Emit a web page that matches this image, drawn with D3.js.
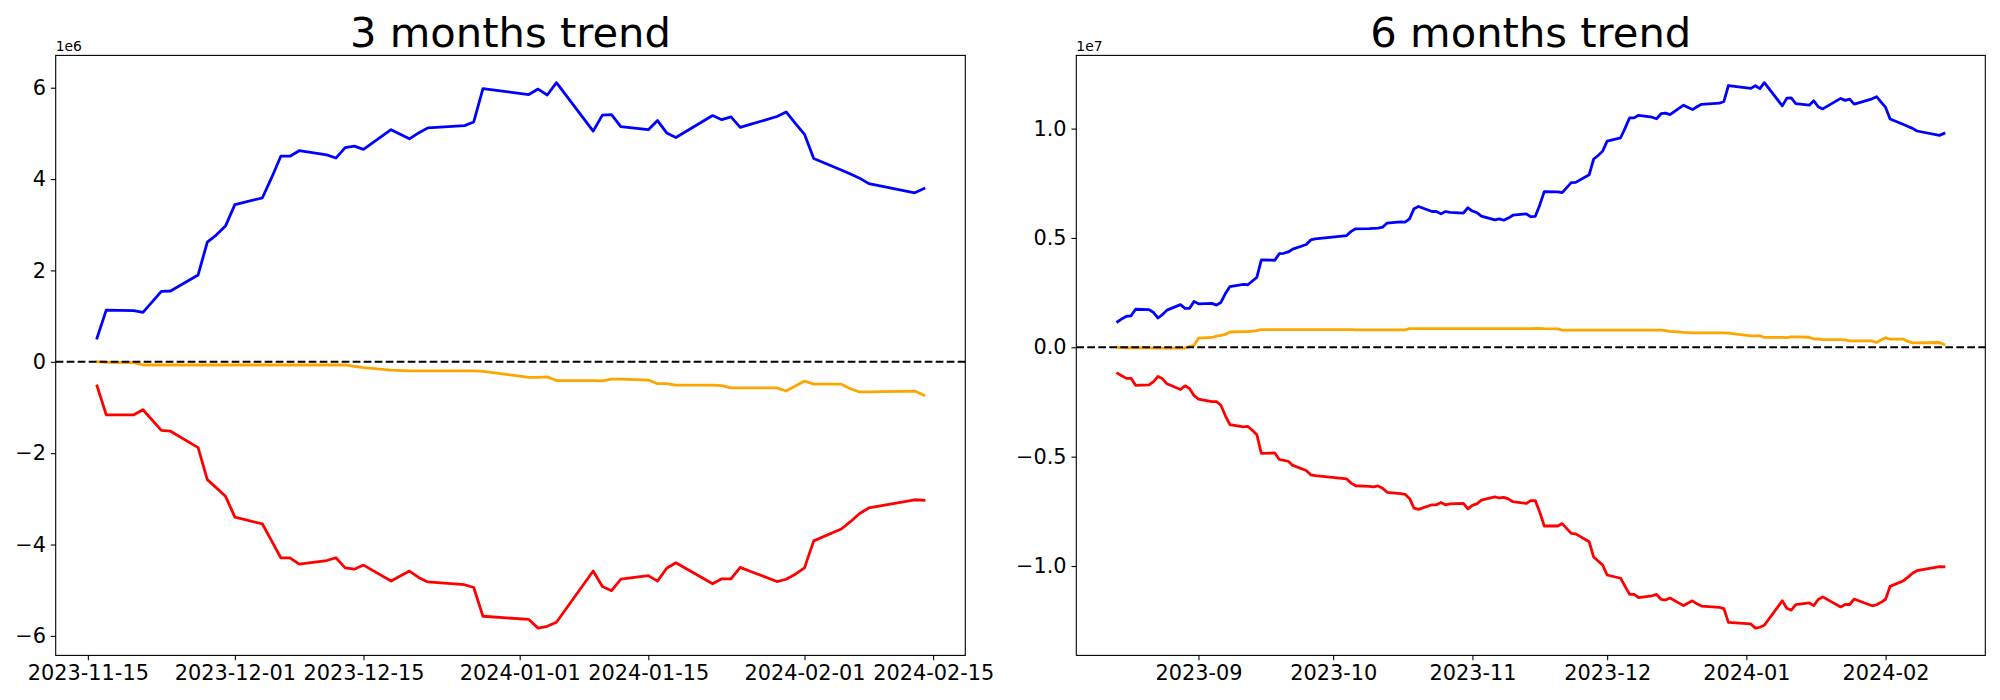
<!DOCTYPE html>
<html>
<head>
<meta charset="utf-8">
<script src="https://cdn.jsdelivr.net/npm/d3@7"></script>
<style>
  body { margin: 0; background: #fff; }
</style>
</head>
<body>
<script>
// ---- 3 months panel (values in units of 1e6) ----
const dates3m = [
  '2023-11-16','2023-11-17','2023-11-20','2023-11-21','2023-11-23','2023-11-24','2023-11-27','2023-11-28','2023-11-29','2023-11-30',
  '2023-12-01','2023-12-04','2023-12-05','2023-12-06','2023-12-07','2023-12-08','2023-12-11','2023-12-12','2023-12-13','2023-12-14',
  '2023-12-15','2023-12-18','2023-12-20','2023-12-21','2023-12-22','2023-12-26','2023-12-27','2023-12-28',
  '2024-01-02','2024-01-03','2024-01-04','2024-01-05','2024-01-09','2024-01-10','2024-01-11','2024-01-12','2024-01-15','2024-01-16',
  '2024-01-17','2024-01-18','2024-01-22','2024-01-23','2024-01-24','2024-01-25','2024-01-26','2024-01-29','2024-01-30','2024-01-31',
  '2024-02-01','2024-02-02','2024-02-05','2024-02-06','2024-02-07','2024-02-08','2024-02-13','2024-02-14'
];
const blue3m = [
  0.52, 1.13, 1.12, 1.08, 1.54, 1.55, 1.90, 2.62, 2.78, 2.98,
  3.44, 3.59, 4.03, 4.50, 4.50, 4.62, 4.53, 4.46, 4.69, 4.72,
  4.65, 5.08, 4.88, 5.01, 5.12, 5.17, 5.25, 5.98,
  5.85, 5.97, 5.84, 6.11, 5.05, 5.40, 5.41, 5.15, 5.08, 5.28,
  5.01, 4.91, 5.39, 5.30, 5.36, 5.13, 5.19, 5.37, 5.47, 5.22,
  4.98, 4.45, 4.20, 4.11, 4.02, 3.90, 3.70, 3.79
];
const red3m = [
  -0.53, -1.16, -1.16, -1.05, -1.50, -1.52, -1.88, -2.58, -2.76, -2.95,
  -3.40, -3.55, -3.92, -4.29, -4.29, -4.43, -4.35, -4.29, -4.51, -4.54,
  -4.45, -4.80, -4.58, -4.72, -4.82, -4.88, -4.94, -5.57,
  -5.64, -5.83, -5.79, -5.70, -4.58, -4.92, -5.01, -4.76, -4.68, -4.80,
  -4.52, -4.40, -4.86, -4.75, -4.75, -4.50, -4.58, -4.81, -4.76, -4.65,
  -4.51, -3.92, -3.66, -3.50, -3.32, -3.20, -3.02, -3.03
];
const orange3m = [
  0.00, -0.01, -0.02, -0.07, -0.07, -0.07, -0.07, -0.07, -0.07, -0.07,
  -0.07, -0.07, -0.07, -0.07, -0.07, -0.07, -0.07, -0.07, -0.07, -0.10,
  -0.13, -0.18, -0.20, -0.20, -0.20, -0.20, -0.20, -0.21,
  -0.34, -0.34, -0.33, -0.41, -0.41, -0.42, -0.38, -0.38, -0.40, -0.48,
  -0.48, -0.51, -0.51, -0.52, -0.57, -0.57, -0.57, -0.57, -0.64, -0.53,
  -0.42, -0.49, -0.49, -0.59, -0.66, -0.66, -0.64, -0.73
];
const xTicks3m = ['2023-11-15','2023-12-01','2023-12-15','2024-01-01','2024-01-15','2024-02-01','2024-02-15'];
const yTicks3m = [-6, -4, -2, 0, 2, 4, 6];

// ---- 6 months panel (values in units of 1e7) ----
const dates6m = [
  '2023-08-14','2023-08-15','2023-08-16','2023-08-17','2023-08-18','2023-08-21','2023-08-22','2023-08-23','2023-08-24','2023-08-25',
  '2023-08-28','2023-08-29','2023-08-30','2023-08-31',
  '2023-09-01','2023-09-04','2023-09-05','2023-09-06','2023-09-07','2023-09-08','2023-09-11','2023-09-12','2023-09-13','2023-09-14',
  '2023-09-15','2023-09-18','2023-09-19','2023-09-20','2023-09-21','2023-09-22','2023-09-25','2023-09-26','2023-09-27',
  '2023-10-04','2023-10-05','2023-10-06','2023-10-09','2023-10-10','2023-10-11','2023-10-12','2023-10-13','2023-10-16','2023-10-17',
  '2023-10-18','2023-10-19','2023-10-20','2023-10-23','2023-10-24','2023-10-25','2023-10-26','2023-10-27','2023-10-30','2023-10-31',
  '2023-11-01','2023-11-02','2023-11-03','2023-11-06','2023-11-07','2023-11-08','2023-11-09','2023-11-10','2023-11-13','2023-11-14',
  '2023-11-15',
  '2023-11-16','2023-11-17','2023-11-20','2023-11-21','2023-11-23','2023-11-24','2023-11-27','2023-11-28','2023-11-29','2023-11-30',
  '2023-12-01','2023-12-04','2023-12-05','2023-12-06','2023-12-07','2023-12-08','2023-12-11','2023-12-12','2023-12-13','2023-12-14',
  '2023-12-15','2023-12-18','2023-12-20','2023-12-21','2023-12-22','2023-12-26','2023-12-27','2023-12-28',
  '2024-01-02','2024-01-03','2024-01-04','2024-01-05','2024-01-09','2024-01-10','2024-01-11','2024-01-12','2024-01-15','2024-01-16',
  '2024-01-17','2024-01-18','2024-01-22','2024-01-23','2024-01-24','2024-01-25','2024-01-26','2024-01-29','2024-01-30','2024-01-31',
  '2024-02-01','2024-02-02','2024-02-05','2024-02-06','2024-02-07','2024-02-08','2024-02-13','2024-02-14'
];
const blue6m = [
  0.117, 0.131, 0.142, 0.144, 0.174, 0.172, 0.159, 0.134, 0.150, 0.170,
  0.195, 0.178, 0.178, 0.210,
  0.199, 0.201, 0.193, 0.205, 0.246, 0.278, 0.288, 0.286, 0.303, 0.320,
  0.400, 0.398, 0.428, 0.430, 0.436, 0.449, 0.470, 0.491, 0.496,
  0.511, 0.530, 0.542, 0.543, 0.544, 0.545, 0.549, 0.568, 0.574, 0.572,
  0.587, 0.634, 0.644, 0.621, 0.621, 0.610, 0.621, 0.617, 0.614, 0.638,
  0.623, 0.616, 0.600, 0.583, 0.587, 0.581, 0.591, 0.604, 0.610, 0.597,
  0.599,
  0.651, 0.712, 0.711, 0.707, 0.753, 0.754, 0.789, 0.861, 0.877, 0.897,
  0.943, 0.958, 1.002, 1.049, 1.049, 1.061, 1.052, 1.045, 1.068, 1.071,
  1.064, 1.107, 1.087, 1.100, 1.111, 1.116, 1.124, 1.197,
  1.184, 1.196, 1.183, 1.210, 1.104, 1.139, 1.140, 1.114, 1.107, 1.127,
  1.100, 1.090, 1.138, 1.129, 1.135, 1.112, 1.118, 1.136, 1.146, 1.121,
  1.097, 1.044, 1.019, 1.010, 1.001, 0.989, 0.969, 0.978
];
const red6m = [
  -0.119, -0.131, -0.142, -0.142, -0.174, -0.172, -0.157, -0.133, -0.144, -0.167,
  -0.193, -0.176, -0.188, -0.220,
  -0.237, -0.248, -0.248, -0.265, -0.313, -0.354, -0.364, -0.362, -0.379, -0.400,
  -0.485, -0.483, -0.513, -0.517, -0.521, -0.540, -0.563, -0.583, -0.587,
  -0.602, -0.621, -0.633, -0.636, -0.638, -0.634, -0.644, -0.663, -0.669, -0.672,
  -0.691, -0.735, -0.741, -0.720, -0.720, -0.710, -0.720, -0.716, -0.714, -0.739,
  -0.723, -0.716, -0.699, -0.684, -0.689, -0.686, -0.693, -0.706, -0.714, -0.701,
  -0.701,
  -0.754, -0.817, -0.817, -0.806, -0.851, -0.853, -0.889, -0.959, -0.977, -0.996,
  -1.041, -1.056, -1.093, -1.130, -1.130, -1.144, -1.136, -1.130, -1.152, -1.155,
  -1.146, -1.181, -1.159, -1.173, -1.183, -1.189, -1.195, -1.258,
  -1.265, -1.284, -1.280, -1.271, -1.159, -1.193, -1.202, -1.177, -1.169, -1.181,
  -1.153, -1.141, -1.187, -1.176, -1.176, -1.151, -1.159, -1.182, -1.177, -1.166,
  -1.152, -1.093, -1.067, -1.051, -1.033, -1.021, -1.003, -1.004
];
const orange6m = [
  0.000, -0.001, -0.002, -0.002, -0.002, -0.003, -0.004, -0.004, -0.004, -0.004,
  -0.004, -0.004, 0.004, 0.008,
  0.042, 0.045, 0.051, 0.055, 0.059, 0.070, 0.072, 0.072, 0.074, 0.076,
  0.081, 0.081, 0.081, 0.081, 0.081, 0.081, 0.081, 0.081, 0.081,
  0.081, 0.081, 0.080, 0.080, 0.080, 0.080, 0.080, 0.080, 0.080, 0.080,
  0.085, 0.085, 0.085, 0.085, 0.085, 0.085, 0.085, 0.085, 0.085, 0.085,
  0.085, 0.085, 0.085, 0.085, 0.085, 0.085, 0.085, 0.085, 0.085, 0.085,
  0.086,
  0.086, 0.085, 0.084, 0.079, 0.079, 0.079, 0.079, 0.079, 0.079, 0.079,
  0.079, 0.079, 0.079, 0.079, 0.079, 0.079, 0.079, 0.079, 0.079, 0.076,
  0.073, 0.068, 0.066, 0.066, 0.066, 0.066, 0.066, 0.065,
  0.052, 0.052, 0.053, 0.045, 0.045, 0.044, 0.048, 0.048, 0.046, 0.038,
  0.038, 0.035, 0.035, 0.034, 0.029, 0.029, 0.029, 0.029, 0.022, 0.033,
  0.044, 0.037, 0.037, 0.027, 0.020, 0.020, 0.022, 0.013
];
const xTicks6m = ['2023-09-01','2023-10-01','2023-11-01','2023-12-01','2024-01-01','2024-02-01'];
const yTicks6m = [-1.0, -0.5, 0.0, 0.5, 1.0];

const width = 2000, height = 700;
const parse = d3.utcParse('%Y-%m-%d');
const font = '"DejaVu Sans", sans-serif';

const svg = d3.select('body')
  .append('svg')
  .attr('width', width)
  .attr('height', height)
  .style('font-family', font);

svg.append('rect').attr('width', width).attr('height', height).attr('fill', '#fff');

function panel({ left, right, title, dates, series, xTicks, xFormat, yTicks, yFormat, offset }) {
  const top = 55.4, bottom = 655.4;
  const t = dates.map(parse);

  // matplotlib-like autoscale: data extent plus 5% margins
  const [t0, t1] = d3.extent(t);
  const dt = (t1 - t0) * 0.05;
  const x = d3.scaleUtc()
    .domain([new Date(+t0 - dt), new Date(+t1 + dt)])
    .range([left, right]);

  const [lo, hi] = d3.extent(series.flatMap(s => s.values).concat(0));
  const dv = (hi - lo) * 0.05;
  const y = d3.scaleLinear()
    .domain([lo - dv, hi + dv])
    .range([bottom, top]);

  const g = svg.append('g');

  const line = d3.line()
    .x((d, i) => x(t[i]))
    .y(d => y(d));

  series.forEach(s => {
    g.append('path')
      .datum(s.values)
      .attr('d', line)
      .attr('fill', 'none')
      .attr('stroke', s.color)
      .attr('stroke-width', 2.78)
      .attr('stroke-linejoin', 'round')
      .attr('stroke-linecap', 'square');
  });

  // zero line
  g.append('line')
    .attr('x1', left).attr('x2', right)
    .attr('y1', y(0)).attr('y2', y(0))
    .attr('stroke', '#000')
    .attr('stroke-width', 2.08)
    .attr('stroke-dasharray', '7.7,3.3');

  // axes
  const xAxis = d3.axisBottom(x)
    .tickValues(xTicks.map(parse))
    .tickFormat(xFormat)
    .tickSize(4.86)
    .tickPadding(4.86)
    .tickSizeOuter(0);
  const yAxis = d3.axisLeft(y)
    .tickValues(yTicks)
    .tickFormat(yFormat)
    .tickSize(4.86)
    .tickPadding(4.86)
    .tickSizeOuter(0);

  const gx = g.append('g').attr('transform', `translate(0,${bottom})`).call(xAxis);
  const gy = g.append('g').attr('transform', `translate(${left},0)`).call(yAxis);
  [gx, gy].forEach(a => {
    a.select('.domain').remove();
    a.attr('font-family', font).attr('font-size', 20.83);
    a.selectAll('line').attr('stroke', '#000').attr('stroke-width', 1.1);
    a.selectAll('text').attr('fill', '#000');
  });

  // frame
  g.append('rect')
    .attr('x', left).attr('y', top)
    .attr('width', right - left).attr('height', bottom - top)
    .attr('fill', 'none')
    .attr('stroke', '#000')
    .attr('stroke-width', 1.1);

  // offset text and title
  g.append('text')
    .attr('x', left).attr('y', 51)
    .attr('font-size', 13.9)
    .text(offset);

  g.append('text')
    .attr('x', (left + right) / 2).attr('y', 46.5)
    .attr('text-anchor', 'middle')
    .attr('font-size', 41.67)
    .text(title);
}

panel({
  left: 55.7, right: 965.3,
  title: '3 months trend',
  dates: dates3m,
  series: [
    { values: blue3m, color: 'blue' },
    { values: red3m, color: 'red' },
    { values: orange3m, color: 'orange' }
  ],
  xTicks: xTicks3m,
  xFormat: d3.utcFormat('%Y-%m-%d'),
  yTicks: yTicks3m,
  yFormat: d3.format('d'),
  offset: '1e6'
});

panel({
  left: 1076.3, right: 1985.3,
  title: '6 months trend',
  dates: dates6m,
  series: [
    { values: blue6m, color: 'blue' },
    { values: red6m, color: 'red' },
    { values: orange6m, color: 'orange' }
  ],
  xTicks: xTicks6m,
  xFormat: d3.utcFormat('%Y-%m'),
  yTicks: yTicks6m,
  yFormat: d3.format('.1f'),
  offset: '1e7'
});
</script>
</body>
</html>
